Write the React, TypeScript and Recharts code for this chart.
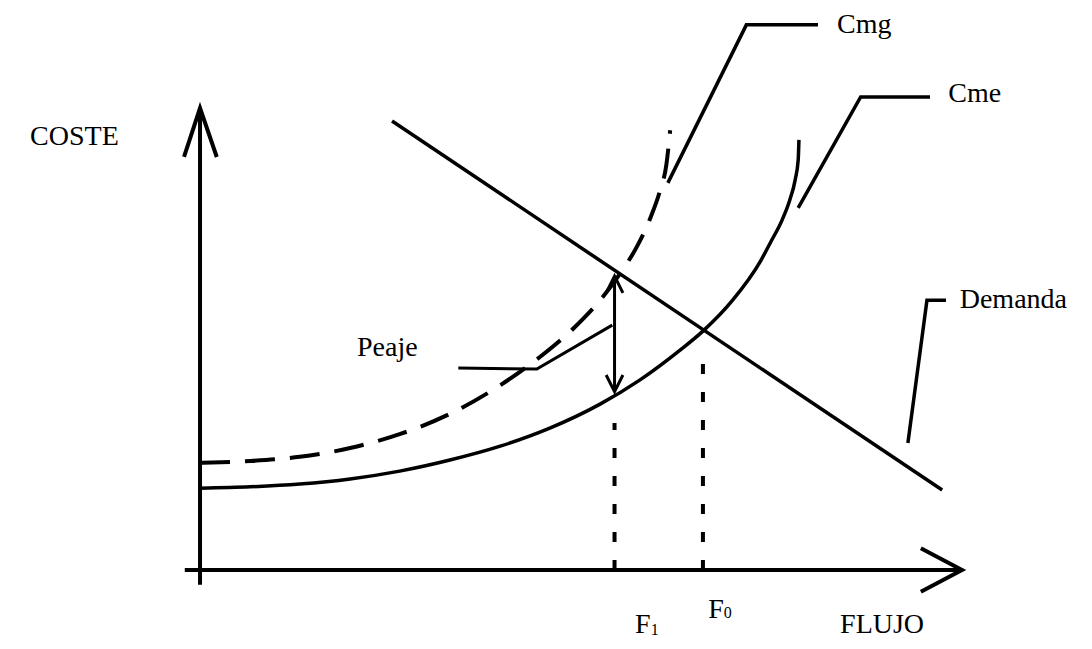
import { ComposedChart, Line, XAxis, YAxis, ReferenceDot } from 'recharts'

// Cme: coste medio (flujo, coste)
const cmeFlujo = [0, 6.6, 13.1, 19.7, 26.2, 32.8, 39.4, 45.9, 52.5, 57.7, 63.0, 66.0, 69.9, 73.5, 74.9, 76.4, 77.4, 78.1, 78.5, 78.6]
const cmeCoste = [17.7, 18.0, 18.6, 19.7, 21.4, 23.8, 26.8, 30.7, 35.9, 41.1, 47.6, 51.7, 58.4, 66.7, 71.0, 75.8, 80.1, 84.4, 88.7, 93.1]

// Cmg: coste marginal
const cmgFlujo = [0, 6.6, 13.1, 19.7, 26.2, 32.8, 39.4, 44.6, 49.2, 52.5, 55.1, 57.3, 59.1, 60.4, 61.2, 61.7]
const cmgCoste = [23.2, 23.6, 24.5, 26.4, 29.4, 33.8, 40.0, 46.1, 52.6, 58.4, 64.1, 69.9, 76.2, 82.3, 87.7, 95.2]

// Demanda (recta)
const demandaFlujo = [25.2, 97.4]
const demandaCoste = [97.2, 17.3]

// flujos de equilibrio
const F1 = 54.4
const F0 = 66.0
const peajeDesde = 38.6
const peajeHasta = 63.6
const cmeEnF1 = 31.8
const cmeEnF0 = 46.0

// líneas guía de las etiquetas
const guiaCmg = [[61.4, 83.8], [71.7, 118.0], [81.1, 118.0]]
const guiaCme = [[78.5, 78.4], [86.7, 102.4], [95.8, 102.4]]
const guiaDemanda = [[92.9, 27.5], [95.4, 58.4], [97.9, 58.4]]
const guiaPeaje = [[33.9, 43.7], [44.2, 43.5], [54.1, 53.0]]

// ejes
const ejeY = [[0, -3.2], [0, 100]]
const flechaY = [[-2.1, 89.4], [0, 100], [2.2, 89.4]]
const ejeX = [[-2.0, 0], [100, 0]]
const flechaX = [[94.6, 4.7], [100, 0], [94.6, -4.7]]

const toPts = (xs: number[], ys: number[]) => xs.map((x, i) => ({ x, y: ys[i] }))
const pairs = (p: number[][]) => p.map(([x, y]) => ({ x, y }))

const FONT = '"Liberation Serif", "Times New Roman", serif'

function Txt({ x, y, children }: { x: number; y: number; children: React.ReactNode }) {
  return (
    <ReferenceDot
      x={x}
      y={y}
      r={0}
      shape={(p: any) => (
        <text x={p.cx} y={p.cy} fontFamily={FONT} fontSize={28} fill="#000">
          {children}
        </text>
      )}
    />
  )
}

function Seg({ pts, w = 3.5, dash }: { pts: { x: number; y: number }[]; w?: number; dash?: string }) {
  return (
    <Line
      data={pts}
      dataKey="y"
      type="linear"
      stroke="#000"
      strokeWidth={w}
      strokeDasharray={dash}
      dot={false}
      activeDot={false}
      isAnimationActive={false}
      legendType="none"
    />
  )
}

export default function App() {
  const arrowTop = [
    { x: F1 - 1.1, y: peajeHasta - 3.6 },
    { x: F1, y: peajeHasta },
    { x: F1 + 1.1, y: peajeHasta - 3.6 },
  ]
  const arrowBottom = [
    { x: F1 - 1.1, y: peajeDesde + 3.6 },
    { x: F1, y: peajeDesde },
    { x: F1 + 1.1, y: peajeDesde + 3.6 },
  ]

  return (
    <div style={{ position: 'absolute', left: 0, top: 0, width: 1092, height: 649, background: '#fff' }}>
      <ComposedChart width={1092} height={649} margin={{ top: 0, right: 0, bottom: 0, left: 0 }}>
        <XAxis type="number" dataKey="x" domain={[-26.25, 117.06]} allowDataOverflow hide />
        <YAxis type="number" dataKey="y" domain={[-17.1, 123.38]} allowDataOverflow hide />

        {/* ejes */}
        <Seg pts={pairs(ejeY)} w={4} />
        <Seg pts={pairs(flechaY)} w={4} />
        <Seg pts={pairs(ejeX)} w={4} />
        <Seg pts={pairs(flechaX)} w={4} />

        {/* curvas */}
        <Line
          data={toPts(cmgFlujo, cmgCoste)}
          dataKey="y"
          type="monotone"
          stroke="#000"
          strokeWidth={4}
          strokeDasharray="30 15"
          dot={false}
          activeDot={false}
          isAnimationActive={false}
        />
        <Line
          data={toPts(cmeFlujo, cmeCoste)}
          dataKey="y"
          type="monotone"
          stroke="#000"
          strokeWidth={3.5}
          dot={false}
          activeDot={false}
          isAnimationActive={false}
        />
        <Seg pts={toPts(demandaFlujo, demandaCoste)} w={3.5} />

        {/* F1, F0 */}
        <Seg pts={[{ x: F1, y: 0 }, { x: F1, y: cmeEnF1 }]} w={4} dash="10 18" />
        <Seg pts={[{ x: F0, y: 0 }, { x: F0, y: cmeEnF0 }]} w={4} dash="10 18" />

        {/* peaje */}
        <Seg pts={[{ x: F1, y: peajeDesde }, { x: F1, y: peajeHasta }]} w={3} />
        <Seg pts={arrowTop} w={3} />
        <Seg pts={arrowBottom} w={3} />

        {/* guías */}
        <Seg pts={pairs(guiaCmg)} w={3.5} />
        <Seg pts={pairs(guiaCme)} w={3.5} />
        <Seg pts={pairs(guiaDemanda)} w={3.5} />
        <Seg pts={pairs(guiaPeaje)} w={3} />

        {/* textos */}
        <Txt x={-22.3} y={92.0}>COSTE</Txt>
        <Txt x={83.6} y={116.2}>Cmg</Txt>
        <Txt x={98.2} y={101.3}>Cme</Txt>
        <Txt x={99.7} y={56.7}>Demanda</Txt>
        <Txt x={20.6} y={46.3}>Peaje</Txt>
        <Txt x={84.0} y={-13.6}>FLUJO</Txt>
        <Txt x={57.1} y={-13.6}>
          F<tspan fontSize={16} dy={2}>1</tspan>
        </Txt>
        <Txt x={66.7} y={-10.4}>
          F<tspan fontSize={16} dy={0}>0</tspan>
        </Txt>
      </ComposedChart>
    </div>
  )
}
